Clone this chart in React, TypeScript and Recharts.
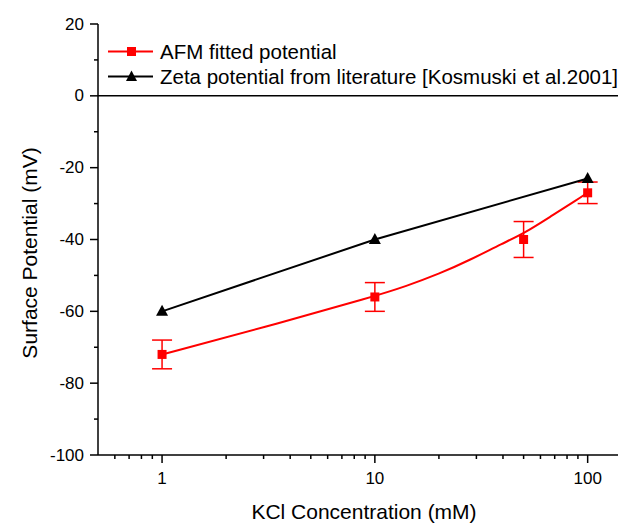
import {
  ComposedChart,
  Line,
  Scatter,
  ErrorBar,
  XAxis,
  YAxis,
  ReferenceLine,
  Legend,
  Label,
} from "recharts";

const FONT = '"Liberation Sans", Arial, sans-serif';

// axis ticks
const xMajor = [1, 10, 100];
const xMinor = [0.6, 0.7, 0.8, 0.9, 2, 3, 4, 5, 6, 7, 8, 9, 20, 30, 40, 50, 60, 70, 80, 90];
const yMajor = [-100, -80, -60, -40, -20, 0, 20];
const yMinor = [-90, -70, -50, -30, -10, 10];

// AFM measured points (mM, mV)
const afmConc = [1, 10, 50, 100];
const afmPotential = [-72, -56, -40, -27];
const afmError = [4, 4, 5, 3];

// fitted curve
const fitConc = [1, 3, 10, 14, 20, 28, 40, 50, 69, 89, 100];
const fitPotential = [-72, -64.5, -55.8, -53, -49.6, -45.7, -41, -38.4, -33.1, -29, -26.9];

// zeta potential from literature
const zetaConc = [1, 10, 100];
const zetaPotential = [-60, -40, -23];

const afmData = afmConc.map((x, i) => ({ x, y: afmPotential[i], err: afmError[i] }));
const fitData = fitConc.map((x, i) => ({ x, y: fitPotential[i] }));
const zetaData = zetaConc.map((x, i) => ({ x, y: zetaPotential[i] }));

const xTicks = [...xMajor, ...xMinor].sort((a, b) => a - b);
const yTicks = [...yMajor, ...yMinor].sort((a, b) => a - b);

const RED = "#ff0000";

const BottomTick = (props: any) => {
  const { x, y, payload } = props;
  const major = xMajor.includes(payload.value);
  return (
    <g>
      <line x1={x} x2={x} y1={y} y2={y + (major ? 8 : 4)} stroke="#000" strokeWidth={1.5} />
      {major && (
        <text x={x} y={y + 23} textAnchor="middle" dominantBaseline="central" fontSize={17} fontFamily={FONT} fill="#000">
          {payload.value}
        </text>
      )}
    </g>
  );
};

const TopTick = (props: any) => {
  const { x, y, payload } = props;
  const major = xMajor.includes(payload.value);
  return <line x1={x} x2={x} y1={y} y2={y + (major ? 8 : 4)} stroke="#000" strokeWidth={1.5} />;
};

const LeftTick = (props: any) => {
  const { x, y, payload } = props;
  const major = yMajor.includes(payload.value);
  return (
    <g>
      <line x1={x - (major ? 8 : 4)} x2={x} y1={y} y2={y} stroke="#000" strokeWidth={1.5} />
      {major && (
        <text x={x - 14} y={y} textAnchor="end" dominantBaseline="central" fontSize={17} fontFamily={FONT} fill="#000">
          {payload.value}
        </text>
      )}
    </g>
  );
};

const RightTick = (props: any) => {
  const { x, y } = props;
  return <line x1={x - 6} x2={x} y1={y} y2={y} stroke="#000" strokeWidth={1.5} />;
};

const Triangle = (props: any) => {
  const { cx, cy } = props;
  if (cx == null || cy == null) return null;
  return <polygon points={`${cx},${cy - 6.5} ${cx - 6},${cy + 4.5} ${cx + 6},${cy + 4.5}`} fill="#000" />;
};

const Square = (props: any) => {
  const { cx, cy } = props;
  return <rect x={cx - 4.5} y={cy - 4.5} width={9} height={9} fill={RED} />;
};

const legendItems = [
  { name: "AFM fitted potential", color: RED, marker: "square" },
  { name: "Zeta potential from literature [Kosmuski et al.2001]", color: "#000", marker: "triangle" },
];

const renderLegend = () => (
  <div style={{ fontFamily: FONT, fontSize: 20.5, color: "#000" }}>
    {legendItems.map((item) => (
      <div key={item.name} style={{ display: "flex", alignItems: "center", height: 25, whiteSpace: "nowrap" }}>
        <svg width={55} height={25}>
          <line x1={3} x2={48} y1={12.5} y2={12.5} stroke={item.color} strokeWidth={2} />
          {item.marker === "square" ? (
            <rect x={22} y={8} width={9} height={9} fill={item.color} />
          ) : (
            <polygon points="26.5,6.5 21,17 32,17" fill={item.color} />
          )}
        </svg>
        <span>{item.name}</span>
      </div>
    ))}
  </div>
);

export default function App() {
  return (
    <div style={{ position: "absolute", left: 0, top: 0, width: 618, height: 524, overflow: "hidden", background: "#fff" }}>
      <ComposedChart width={630} height={524} margin={{ top: 24, right: 8, bottom: 9, left: 7 }}>
        <XAxis
          dataKey="x"
          type="number"
          scale="log"
          domain={[0.5, 145]}
          allowDataOverflow
          ticks={xTicks}
          interval={0}
          height={60}
          tickSize={0}
          tickMargin={0}
          tickLine={false}
          axisLine={{ stroke: "#000", strokeWidth: 1.5 }}
          tick={(p: any) => <BottomTick {...p} />}
        >
          <Label
            content={() => (
              <text x={364} y={519} textAnchor="middle" fontSize={21} fontFamily={FONT} fill="#000">
                KCl Concentration (mM)
              </text>
            )}
          />
        </XAxis>
        <XAxis
          xAxisId="top"
          orientation="top"
          dataKey="x"
          type="number"
          scale="log"
          domain={[0.5, 145]}
          allowDataOverflow
          ticks={xTicks}
          interval={0}
          height={0}
          tickSize={0}
          tickMargin={0}
          tickLine={false}
          axisLine={{ stroke: "#000", strokeWidth: 1.5 }}
          tick={(p: any) => <TopTick {...p} />}
        />
        <YAxis
          type="number"
          domain={[-100, 20]}
          allowDataOverflow
          ticks={yTicks}
          interval={0}
          width={91}
          tickSize={0}
          tickMargin={0}
          tickLine={false}
          axisLine={{ stroke: "#000", strokeWidth: 1.5 }}
          tick={(p: any) => <LeftTick {...p} />}
        >
          <Label
            content={() => (
              <text
                x={29}
                y={253}
                transform="rotate(-90, 29, 253)"
                textAnchor="middle"
                dominantBaseline="central"
                fontSize={21}
                fontFamily={FONT}
                fill="#000"
              >
                Surface Potential (mV)
              </text>
            )}
          />
        </YAxis>
        <YAxis
          yAxisId="right"
          orientation="right"
          type="number"
          domain={[-100, 20]}
          allowDataOverflow
          ticks={[-80, -60, -40, -20, 0]}
          interval={0}
          width={0}
          tickSize={0}
          tickMargin={0}
          tickLine={false}
          axisLine={{ stroke: "#000", strokeWidth: 1.5 }}
          tick={(p: any) => <RightTick {...p} />}
        />
        <ReferenceLine y={0} stroke="#000" strokeWidth={1.5} />
        <Legend
          content={renderLegend}
          layout="horizontal"
          verticalAlign="middle"
          align="center"
          wrapperStyle={{ left: 105, top: 39, width: "auto" }}
        />
        <Line
          data={fitData}
          dataKey="y"
          type="basis"
          stroke={RED}
          strokeWidth={2}
          dot={false}
          activeDot={false}
          isAnimationActive={false}
        />
        <Scatter data={afmData} dataKey="y" fill={RED} shape={(p: any) => <Square {...p} />} isAnimationActive={false}>
          <ErrorBar dataKey="err" direction="y" width={10} stroke={RED} strokeWidth={1.5} />
        </Scatter>
        <Line
          data={zetaData}
          dataKey="y"
          type="linear"
          stroke="#000"
          strokeWidth={2}
          dot={(p: any) => <Triangle key={p.index} {...p} />}
          activeDot={false}
          isAnimationActive={false}
        />
      </ComposedChart>
    </div>
  );
}
